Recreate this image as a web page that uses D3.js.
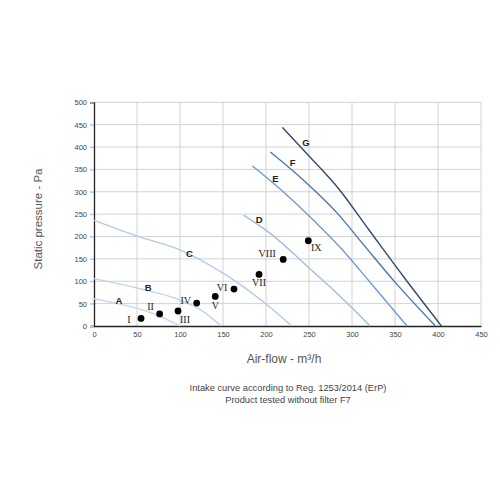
<!DOCTYPE html>
<html>
<head>
<meta charset="utf-8">
<script src="https://cdn.jsdelivr.net/npm/d3@7"></script>
<style>
  html, body { margin: 0; padding: 0; background: #fff; }
  svg { display: block; }
</style>
</head>
<body>
<svg id="chart" width="500" height="500"></svg>
<script>
// ---- data ----
const xTicks = [0, 50, 100, 150, 200, 250, 300, 350, 400, 450];
const yTicks = [0, 50, 100, 150, 200, 250, 300, 350, 400, 450, 500];

const curveNames = ["A", "B", "C", "D", "E", "F", "G"];
const curveA = [[0, 61], [30, 49], [60, 34], [80, 19], [100, 0]];
const curveB = [[0, 106], [50, 85], [100, 58], [125, 35], [148, 0]];
const curveC = [[0, 236], [50, 201], [100, 170], [150, 118], [166, 98], [200, 49], [230, 0]];
const curveD = [[174, 248], [205, 207], [251, 128], [282, 74], [302, 37], [321, 0]];
const curveE = [[184, 358], [220, 300], [255, 237], [288, 172], [320, 100], [364, 0]];
const curveF = [[205, 389], [243, 327], [282, 254], [315, 178], [350, 98], [397, 0]];
const curveG = [[219, 444], [250, 380], [284, 308], [320, 214], [360, 110], [404, 0]];
const curveLabelAt = [[29, 58], [63, 87], [111, 163], [192, 239], [211, 330], [231, 366], [246.5, 411]];

const pointNames = ["I", "II", "III", "IV", "V", "VI", "VII", "VIII", "IX"];
const pointX = [54.7, 76.3, 97.7, 119.4, 141, 162.8, 191.9, 220, 249.2];
const pointY = [17, 27, 33.5, 51.3, 66.2, 82.6, 115.3, 148.8, 190.5];

const noteLines = ["Intake curve according to Reg. 1253/2014 (ErP)", "Product tested without filter F7"];

// ---- styles ----
const curveColors = ["#c6d9ee", "#c0d5ec", "#b2cbe7", "#9fbfe2", "#6f9dcf", "#4b78aa", "#2f4b6d"];
const pointLabelOffsets = [[-12, 1], [-9, -7], [7, 8], [-11, -3], [0, 9], [-12, -2], [0, 8], [-16, -6], [8, 7]];

const svg = d3.select("#chart");
svg.append("rect").attr("width", 500).attr("height", 500).attr("fill", "#fff");

const x = d3.scaleLinear().domain([0, 450]).range([94, 481]);
const y = d3.scaleLinear().domain([0, 500]).range([326, 102.3]);

// grid
const grid = svg.append("g");
grid.selectAll("line.v").data(xTicks.slice(1)).join("line")
  .attr("x1", d => x(d)).attr("x2", d => x(d))
  .attr("y1", y(500)).attr("y2", y(0))
  .attr("stroke", "#d2d2d2").attr("stroke-width", 1);
grid.selectAll("line.h").data(yTicks.slice(1)).join("line")
  .attr("x1", x(0) - 4).attr("x2", x(450))
  .attr("y1", d => y(d)).attr("y2", d => y(d))
  .attr("stroke", "#d2d2d2").attr("stroke-width", 1);

// axes
const xAxis = d3.axisBottom(x).tickValues(xTicks).tickSize(0).tickPadding(6);
const yAxis = d3.axisLeft(y).tickValues(yTicks).tickSize(4).tickPadding(3);
const gx = svg.append("g").attr("transform", `translate(0,${y(0)})`).call(xAxis);
const gy = svg.append("g").attr("transform", `translate(${x(0)},0)`).call(yAxis);
[gx, gy].forEach(g => {
  g.select(".domain").attr("stroke", "#222").attr("stroke-width", 1.3);
  g.selectAll(".tick line").attr("stroke", "#bbb");
  g.selectAll(".tick text").attr("fill", "#444")
    .style("font-family", "Liberation Sans, Arial, sans-serif").style("font-size", "7.5px");
});

// curves
const line = d3.line().x(d => x(d[0])).y(d => y(d[1])).curve(d3.curveMonotoneX);
const curves = [curveA, curveB, curveC, curveD, curveE, curveF, curveG];
svg.append("g").selectAll("path").data(curves).join("path")
  .attr("d", d => line(d))
  .attr("fill", "none")
  .attr("stroke", (d, i) => curveColors[i])
  .attr("stroke-width", 1.4);

// curve labels
svg.append("g").selectAll("text").data(curveNames).join("text")
  .attr("x", (d, i) => x(curveLabelAt[i][0]))
  .attr("y", (d, i) => y(curveLabelAt[i][1]))
  .attr("text-anchor", "middle").attr("dominant-baseline", "central")
  .attr("fill", "#222")
  .style("font-family", "Liberation Sans, Arial, sans-serif")
  .style("font-size", "9.5px").style("font-weight", "bold")
  .text(d => d);

// points
const pts = pointNames.map((n, i) => ({ n, x: pointX[i], y: pointY[i], o: pointLabelOffsets[i] }));
svg.append("g").selectAll("circle").data(pts).join("circle")
  .attr("cx", d => x(d.x)).attr("cy", d => y(d.y)).attr("r", 3.4).attr("fill", "#000");
svg.append("g").selectAll("text").data(pts).join("text")
  .attr("x", d => x(d.x) + d.o[0]).attr("y", d => y(d.y) + d.o[1])
  .attr("text-anchor", "middle").attr("dominant-baseline", "central")
  .attr("fill", "#222")
  .style("font-family", "Liberation Serif, Times New Roman, serif")
  .style("font-size", "10px")
  .text(d => d.n);

// axis titles
svg.append("text")
  .attr("x", 284).attr("y", 359)
  .attr("text-anchor", "middle").attr("dominant-baseline", "central")
  .attr("fill", "#555")
  .style("font-family", "Liberation Sans, Arial, sans-serif").style("font-size", "12px")
  .text("Air-flow - m³/h");
svg.append("text")
  .attr("transform", "translate(38,219) rotate(-90)")
  .attr("text-anchor", "middle").attr("dominant-baseline", "central")
  .attr("fill", "#555")
  .style("font-family", "Liberation Sans, Arial, sans-serif").style("font-size", "11.5px")
  .text("Static pressure - Pa");

// notes
svg.append("g").selectAll("text").data(noteLines).join("text")
  .attr("x", 288).attr("y", (d, i) => 388 + i * 11.7)
  .attr("text-anchor", "middle").attr("dominant-baseline", "central")
  .attr("fill", "#444")
  .style("font-family", "Liberation Sans, Arial, sans-serif").style("font-size", "9.3px")
  .text(d => d);
</script>
</body>
</html>
